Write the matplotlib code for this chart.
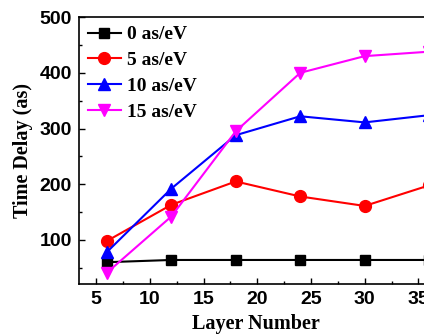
import matplotlib.pyplot as plt
from matplotlib.ticker import MultipleLocator

# Data
layers = [6, 12, 18, 24, 30, 36]
delay_0 = [60, 64, 64, 64, 64, 64]
delay_5 = [98, 163, 205, 178, 161, 198]
delay_10 = [78, 192, 288, 322, 311, 324]
delay_15 = [41, 142, 295, 400, 430, 438]

labels = ["0 as/eV", "5 as/eV", "10 as/eV", "15 as/eV"]
series = [delay_0, delay_5, delay_10, delay_15]
colors = ["black", "red", "blue", "magenta"]
markers = ["s", "o", "^", "v"]
msizes = [7.5, 8.5, 9, 9]

fig = plt.figure(figsize=(4.24, 3.36), dpi=100)
ax = fig.add_axes([0.186, 0.155, 0.892, 0.794])

for vals, lab, c, m, ms in zip(series, labels, colors, markers, msizes):
    ax.plot(layers, vals, color=c, marker=m, markersize=ms, linewidth=1.5, label=lab)

ax.set_xlim(3.4, 38.6)
ax.set_ylim(21, 500)
ax.xaxis.set_major_locator(MultipleLocator(5))
ax.xaxis.set_minor_locator(MultipleLocator(2.5))
ax.yaxis.set_major_locator(MultipleLocator(100))
ax.yaxis.set_minor_locator(MultipleLocator(50))
ax.tick_params(which="both", direction="in", top=False, right=False)
ax.tick_params(which="major", length=4, width=1, pad=5)
ax.tick_params(which="minor", length=2.5, width=1)
for lbl in ax.get_xticklabels() + ax.get_yticklabels():
    lbl.set_family("Liberation Sans")
    lbl.set_fontweight("bold")
    lbl.set_fontsize(14)
for sp in ax.spines.values():
    sp.set_linewidth(1.2)

ax.set_xlabel("Layer Number", family="Liberation Serif", fontweight="bold", fontsize=14.5)
ax.set_ylabel("Time Delay (as)", family="Liberation Serif", fontweight="bold", fontsize=14.5)
ax.xaxis.set_label_coords(0.468, -0.112)
ax.yaxis.set_label_coords(-0.122, 0.5)

ax.legend(loc="upper left", frameon=False, prop={"family": "Liberation Serif", "weight": "bold", "size": 14},
          handlelength=1.7, handletextpad=0.35, labelspacing=0.42, borderaxespad=0.15, borderpad=0.3)

fig.savefig("out.png", dpi=100, facecolor="white")
